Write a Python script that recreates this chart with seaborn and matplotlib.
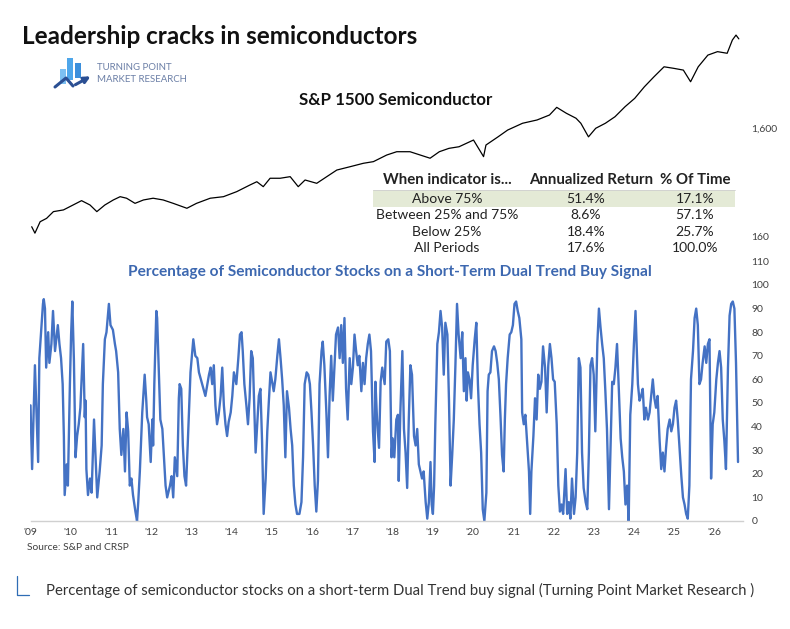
import numpy as np
import pandas as pd
import matplotlib
matplotlib.use("Agg")
import matplotlib.pyplot as plt
import matplotlib.ticker as mticker
from matplotlib.patches import Rectangle, FancyArrowPatch
import seaborn as sns

# --- indicator: % of semiconductor stocks on a short-term Dual Trend buy signal ---
ind_year = [
    2009.00, 2009.04, 2009.11, 2009.19, 2009.22, 2009.31, 2009.33, 2009.36, 2009.39, 2009.44,
    2009.47, 2009.52, 2009.56, 2009.61, 2009.68, 2009.72, 2009.76, 2009.80, 2009.83, 2009.85,
    2009.90, 2009.93, 2009.98, 2010.01, 2010.04, 2010.08, 2010.12, 2010.16, 2010.20, 2010.24,
    2010.31, 2010.35, 2010.37, 2010.39, 2010.43, 2010.48, 2010.52, 2010.58, 2010.66, 2010.72,
    2010.77, 2010.80, 2010.85, 2010.89, 2010.95, 2010.99, 2011.05, 2011.10, 2011.13, 2011.18,
    2011.22, 2011.26, 2011.31, 2011.35, 2011.39, 2011.43, 2011.47, 2011.51, 2011.55, 2011.61,
    2011.65, 2011.68, 2011.72, 2011.78, 2011.84, 2011.88, 2011.90, 2011.94, 2011.99, 2012.03,
    2012.05, 2012.08, 2012.13, 2012.15, 2012.19, 2012.23, 2012.28, 2012.33, 2012.36, 2012.40,
    2012.47, 2012.51, 2012.55, 2012.59, 2012.65, 2012.69, 2012.71, 2012.75, 2012.79, 2012.83,
    2012.87, 2012.91, 2012.98, 2013.05, 2013.10, 2013.15, 2013.19, 2013.35,
    2013.44, 2013.48, 2013.52, 2013.56, 2013.60, 2013.64, 2013.68, 2013.73, 2013.77, 2013.81,
    2013.85, 2013.89, 2013.93, 2013.98, 2014.02, 2014.06, 2014.12, 2014.17, 2014.21, 2014.25,
    2014.28, 2014.32, 2014.37, 2014.41, 2014.45, 2014.49, 2014.53, 2014.57, 2014.60, 2014.64,
    2014.68, 2014.72, 2014.76, 2014.80, 2014.85, 2014.89, 2014.93, 2014.97, 2015.01, 2015.05,
    2015.09, 2015.14, 2015.18, 2015.22, 2015.26, 2015.30, 2015.34, 2015.38, 2015.43, 2015.47,
    2015.51, 2015.55, 2015.59, 2015.63, 2015.69, 2015.74, 2015.78, 2015.82, 2015.87, 2015.91,
    2015.95, 2015.99, 2016.03, 2016.07, 2016.11, 2016.15, 2016.19, 2016.24, 2016.27, 2016.31,
    2016.36, 2016.40, 2016.44, 2016.48, 2016.52, 2016.56, 2016.60, 2016.65, 2016.69, 2016.73,
    2016.77, 2016.81, 2016.85, 2016.89, 2016.94, 2016.98, 2017.02, 2017.06, 2017.10, 2017.14,
    2017.18, 2017.23, 2017.27, 2017.31, 2017.35, 2017.39, 2017.43, 2017.47, 2017.52, 2017.56,
    2017.58, 2017.62, 2017.67, 2017.71, 2017.75, 2017.81, 2017.85, 2017.90, 2017.94,
    2017.98, 2018.01, 2018.05, 2018.10, 2018.14, 2018.16, 2018.20, 2018.25, 2018.29, 2018.33,
    2018.37, 2018.41, 2018.45, 2018.49, 2018.54, 2018.58, 2018.62, 2018.66, 2018.70, 2018.74,
    2018.78, 2018.83, 2018.87, 2018.91, 2018.95, 2018.98, 2019.01, 2019.04, 2019.07, 2019.12,
    2019.16, 2019.20, 2019.24, 2019.28, 2019.32, 2019.37, 2019.41, 2019.45, 2019.49, 2019.53,
    2019.57, 2019.61, 2019.65, 2019.70, 2019.74, 2019.78, 2019.82, 2019.85, 2019.88, 2019.92,
    2019.96, 2020.00, 2020.05, 2020.09, 2020.13, 2020.17, 2020.21, 2020.25, 2020.29, 2020.34,
    2020.37, 2020.40, 2020.44, 2020.48, 2020.53, 2020.57, 2020.61, 2020.65, 2020.69, 2020.73,
    2020.77, 2020.80, 2020.83, 2020.87, 2020.92, 2020.96, 2021.00, 2021.04, 2021.08, 2021.12,
    2021.16, 2021.21, 2021.23, 2021.27, 2021.31, 2021.36, 2021.40, 2021.43, 2021.46, 2021.51,
    2021.55, 2021.59, 2021.63, 2021.67, 2021.71, 2021.75, 2021.80, 2021.84, 2021.88, 2021.92,
    2021.96, 2022.00, 2022.04, 2022.09, 2022.13, 2022.17, 2022.21, 2022.25,
    2022.31, 2022.35, 2022.39, 2022.43, 2022.47, 2022.52, 2022.56, 2022.60, 2022.64, 2022.68,
    2022.72, 2022.76, 2022.81, 2022.85, 2022.89, 2022.93, 2022.97, 2023.01, 2023.05, 2023.10,
    2023.14, 2023.18, 2023.22, 2023.26, 2023.30, 2023.34, 2023.39, 2023.43, 2023.47, 2023.51,
    2023.55, 2023.59, 2023.63, 2023.68, 2023.72, 2023.76, 2023.80, 2023.84, 2023.88, 2023.92,
    2023.97, 2024.01, 2024.05, 2024.07, 2024.11, 2024.15, 2024.19, 2024.23, 2024.27, 2024.31,
    2024.36, 2024.40, 2024.44, 2024.48, 2024.52, 2024.56, 2024.60, 2024.65, 2024.69, 2024.73,
    2024.77, 2024.81, 2024.85, 2024.90, 2024.94, 2024.98, 2025.02, 2025.06, 2025.10, 2025.14,
    2025.19, 2025.23, 2025.27, 2025.31, 2025.35, 2025.39, 2025.43, 2025.48, 2025.52, 2025.56,
    2025.60, 2025.64, 2025.68, 2025.72, 2025.77, 2025.81, 2025.85, 2025.89, 2025.93, 2025.97,
    2026.01, 2026.06, 2026.10, 2026.14, 2026.18, 2026.22, 2026.26, 2026.30, 2026.35, 2026.39,
    2026.43, 2026.47, 2026.51, 2026.55, 2026.58, 2026.60,
]
ind_pct = [
    49, 22, 66, 25, 69, 92, 94, 90, 65, 80,
    67, 75, 89, 72, 83, 75, 69, 58, 36, 11,
    24, 15, 58, 79, 93, 68, 27, 36, 41, 48,
    75, 44, 51, 22, 11, 18, 12, 43, 10, 21,
    32, 58, 77, 80, 92, 83, 81, 75, 72, 63,
    39, 28, 39, 21, 46, 38, 15, 18, 11, 4,
    0, 8, 21, 46, 62, 51, 44, 41, 25, 43,
    32, 58, 89, 86, 65, 43, 39, 24, 15, 10,
    15, 19, 10, 27, 19, 52, 58, 56, 32, 19,
    15, 32, 63, 77, 70, 69, 63, 53,
    62, 65, 58, 66, 49, 41, 45, 53, 65, 49,
    41, 36, 42, 46, 53, 63, 58, 69, 79, 80,
    72, 58, 49, 41, 52, 72, 69, 46, 29, 41,
    53, 56, 34, 3, 18, 38, 51, 63, 59, 55,
    60, 70, 77, 69, 60, 49, 27, 55, 48, 39,
    32, 15, 7, 3, 3, 8, 27, 58, 63, 62,
    58, 46, 32, 15, 4, 17, 58, 72, 76, 66,
    46, 27, 53, 70, 51, 65, 79, 82, 69, 83,
    67, 86, 56, 43, 69, 58, 65, 79, 72, 66,
    70, 55, 67, 58, 69, 75, 79, 72, 38, 25,
    59, 43, 31, 59, 65, 58, 76, 77, 72,
    27, 35, 27, 43, 45, 17, 46, 72, 39, 29,
    14, 43, 66, 62, 36, 32, 39, 24, 21, 18,
    21, 8, 1, 8, 25, 7, 3, 15, 41, 75,
    80, 89, 82, 62, 84, 79, 51, 15, 28, 43,
    66, 92, 79, 69, 80, 55, 69, 51, 63, 60,
    52, 66, 77, 84, 58, 41, 29, 5, 0, 12,
    55, 62, 63, 72, 74, 72, 67, 60, 45, 28,
    21, 43, 58, 69, 79, 80, 83, 92, 93, 89,
    86, 77, 46, 41, 45, 32, 21, 3, 21, 36,
    52, 43, 62, 56, 59, 74, 65, 46, 66, 75,
    69, 60, 59, 41, 15, 4, 7, 3,
    22, 3, 8, 1, 18, 3, 10, 29, 69, 65,
    29, 14, 8, 5, 29, 66, 69, 62, 38, 75,
    90, 82, 75, 69, 55, 39, 5, 32, 59, 58,
    65, 75, 58, 35, 27, 21, 7, 15, 0, 45,
    58, 75, 89, 79, 58, 51, 53, 56, 43, 48,
    43, 46, 53, 60, 52, 48, 53, 34, 22, 29,
    21, 31, 39, 43, 38, 41, 48, 51, 43, 32,
    19, 10, 7, 3, 1, 15, 60, 72, 86, 90,
    83, 58, 60, 67, 74, 67, 75, 77, 18, 41,
    46, 60, 67, 72, 65, 43, 34, 22, 65, 87,
    92, 93, 90, 67, 43, 25,
]

# --- S&P 1500 Semiconductor index (log scale) ---
px_year = [
    2009.03, 2009.11, 2009.24, 2009.40, 2009.57, 2009.82, 2010.06, 2010.27, 2010.48, 2010.65,
    2010.85, 2011.06, 2011.23, 2011.39, 2011.60, 2011.81, 2012.05, 2012.30, 2012.55, 2012.89,
    2013.13, 2013.47, 2013.80, 2014.13, 2014.46, 2014.63, 2014.79, 2014.96, 2015.21, 2015.46,
    2015.66, 2015.83, 2016.12, 2016.37, 2016.62, 2016.95, 2017.28, 2017.53, 2017.86, 2018.11,
    2018.44, 2018.94, 2019.17, 2019.41, 2019.66, 2020.02, 2020.27, 2020.33, 2020.63, 2020.87,
    2021.24, 2021.60, 2021.91, 2022.09, 2022.33, 2022.57, 2022.69, 2022.88, 2023.06, 2023.30,
    2023.54, 2023.79, 2024.03, 2024.27, 2024.51, 2024.76, 2025.00, 2025.24, 2025.42, 2025.61,
    2025.85, 2026.09, 2026.33, 2026.46, 2026.55, 2026.62,
]
px_value = [
    195, 170, 217, 233, 269, 279, 310, 340, 310, 269,
    310, 345, 370, 358, 321, 345, 358, 345, 321, 289,
    321, 358, 370, 412, 475, 509, 458, 548, 548, 567,
    458, 528, 492, 567, 653, 701, 754, 781, 899, 965,
    965, 840, 965, 1037, 1073, 1238, 869, 1113, 1325, 1532,
    1770, 1898, 2110, 2485, 2190, 1970, 1770, 1325, 1590, 1770,
    2035, 2520, 3010, 3850, 4770, 5900, 5710, 5500, 4290, 5900,
    7570, 8150, 7870, 10450, 11600, 10700,
]

year_ticks = list(range(2009, 2027))
year_labels = ["'" + str(y)[2:] for y in year_ticks]
pct_ticks = list(range(0, 111, 10))
price_ticks = [160, 1600]
price_labels = ["160", "1,600"]

table_header = ["When indicator is...", "Annualized Return", "% Of Time"]
table_col1 = ["Above 75%", "Between 25% and 75%", "Below 25%", "All Periods"]
table_col2 = ["51.4%", "8.6%", "18.4%", "17.6%"]
table_col3 = ["17.1%", "57.1%", "25.7%", "100.0%"]

W, H = 790, 629
BLUE = "#4472c4"
DARK = "#404040"

sns.set_theme(style="white")
plt.rcParams["font.family"] = ["Lato", "DejaVu Sans"]

fig = plt.figure(figsize=(W / 100, H / 100), dpi=100)
fig.patch.set_facecolor("white")

# plot area in pixels
x0, x1, y_top, y_bot = 30.5, 743, 30, 521
ax = fig.add_axes([x0 / W, 1 - y_bot / H, (x1 - x0) / W, (y_bot - y_top) / H])
ax.set_facecolor("none")

ind_df = pd.DataFrame({"year": ind_year, "pct": ind_pct})
px_df = pd.DataFrame({"year": px_year, "price": px_value})

sns.lineplot(data=ind_df, x="year", y="pct", ax=ax, color=BLUE, linewidth=1.7,
             estimator=None, sort=False)
ax.set_xlim(2009.0, 2009 + (x1 - x0) / 40.2)
ax.set_ylim(0, (y_bot - y_top) / 2.36)
ax.set_xlabel("")
ax.set_ylabel("")

# price on a log twin axis
ax2 = ax.twinx()
sns.lineplot(data=px_df, x="year", y="price", ax=ax2, color="black", linewidth=0.9,
             estimator=None, sort=False)
ax2.set_yscale("log")
ax2.set_ylim(160 / 10 ** ((y_bot - 236) / 108), 160 * 10 ** ((236 - y_top) / 108))
ax2.yaxis.set_major_locator(mticker.FixedLocator(price_ticks))
ax2.yaxis.set_minor_locator(mticker.NullLocator())
ax2.set_yticklabels(price_labels)
ax2.tick_params(axis="y", length=0, labelsize=7.5, labelcolor=DARK, pad=6)
ax2.set_ylabel("")
for side in ax2.spines:
    ax2.spines[side].set_visible(False)
ax2.grid(False)

# twinx moves the first axis' ticks to the left, so set them after it
ax.set_xticks(year_ticks)
ax.set_xticklabels(year_labels)
ax.tick_params(axis="x", length=3, width=0.8, color="#c8c8c8", direction="out",
               labelsize=7.5, labelcolor=DARK, pad=2)
ax.yaxis.tick_right()
ax.set_yticks(pct_ticks)
ax.tick_params(axis="y", length=0, labelsize=7.5, labelcolor=DARK, pad=6,
               left=False, labelleft=False, right=True, labelright=True)
for side in ["top", "left", "right"]:
    ax.spines[side].set_visible(False)
ax.spines["bottom"].set_color("#d0d0d0")
ax.spines["bottom"].set_linewidth(1)
ax.grid(False)

# overlay in pixel coordinates for titles, table and logo
ov = fig.add_axes([0, 0, 1, 1], zorder=-1)
ov.set_xlim(0, W)
ov.set_ylim(H, 0)
ov.axis("off")

ov.text(22, 36, "Leadership cracks in semiconductors", fontsize=17.5, fontweight="bold",
        color="#111111", va="center", ha="left")
ov.text(396, 100, "S&P 1500 Semiconductor", fontsize=12.2, fontweight="bold",
        color="#111111", va="center", ha="center")

# logo
for bx, btop, bbot, bc in [(60, 69, 84, "#7cc0f2"), (67, 58, 80, "#4ea6ea"), (75, 63, 78, "#3b8fdc")]:
    ov.add_patch(Rectangle((bx, btop), 6, bbot - btop, color=bc, lw=0))
ov.plot([55, 66, 73], [87, 78, 86], color="#2b4f93", lw=2.2, solid_capstyle="round")
ov.add_patch(FancyArrowPatch((73, 86), (93, 75), arrowstyle="-|>", mutation_scale=9,
                             color="#2b4f93", lw=2.2))
ov.text(97, 68, "TURNING POINT", fontsize=6.9, color="#6b7fa6", va="center", ha="left")
ov.text(97, 80, "MARKET RESEARCH", fontsize=6.9, color="#6b7fa6", va="center", ha="left")

# stats table
col_x = [447, 591, 695]
row_y = [199, 215, 232, 248]
ov.add_patch(Rectangle((373, 190), 362, 17, color="#e4ead6", lw=0))
ov.plot([373, 735], [190, 190], color="#cfcfcf", lw=0.6)
for cx, txt in zip(col_x, table_header):
    ov.text(cx, 180, txt, fontsize=10.8, fontweight="bold", color="#222222",
            ha="center", va="center")
for i, ry in enumerate(row_y):
    ov.text(col_x[0], ry, table_col1[i], fontsize=10, color="#222222", ha="center", va="center")
    ov.text(586, ry, table_col2[i], fontsize=10, color="#222222", ha="center", va="center")
    ov.text(col_x[2], ry, table_col3[i], fontsize=10, color="#222222", ha="center", va="center")

ov.text(390, 272, "Percentage of Semiconductor Stocks on a Short-Term Dual Trend Buy Signal",
        fontsize=11.1, fontweight="bold", color="#3d68b0", ha="center", va="center")

ov.text(27, 548, "Source: S&P and CRSP", fontsize=7.4, color=DARK, ha="left", va="center")

# caption below the picture
ov.plot([17, 17, 29], [576, 595, 595], color="#2f6db5", lw=0.9)
ov.text(46, 590, "Percentage of semiconductor stocks on a short-term Dual Trend buy signal "
        "(Turning Point Market Research )", fontsize=10.7, color="#333333",
        ha="left", va="center")

fig.savefig("out.png", dpi=100, facecolor="white")
plt.close(fig)
